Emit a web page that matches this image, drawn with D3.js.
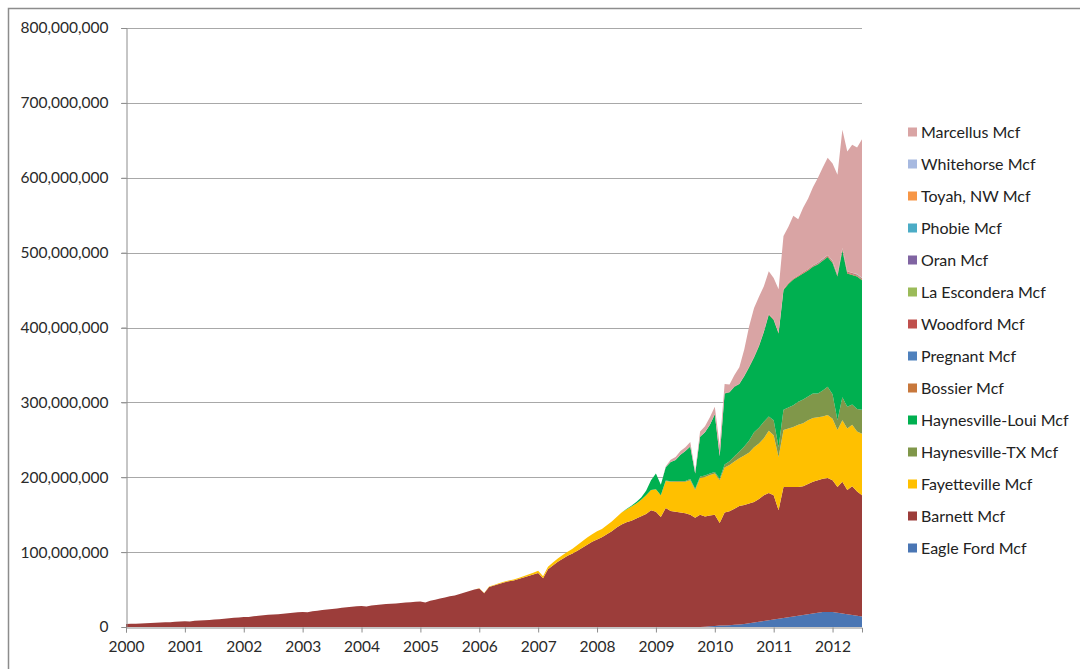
<!DOCTYPE html>
<html><head><meta charset="utf-8">
<script src="https://cdn.jsdelivr.net/npm/d3@7/dist/d3.min.js"></script>
<style>
body{margin:0;background:#fff;}
svg{display:block;font-family:Lato,"Open Sans",sans-serif;}
</style>
</head><body>
<svg id="chart" width="1080" height="669"></svg>
<script>
// Monthly gas production, millions of Mcf, Jan 2000 .. Jul 2012 (151 months)
const monthCount = 151;
const yearLabels = ["2000","2001","2002","2003","2004","2005","2006","2007","2008","2009","2010","2011","2012"];
const yTicks = [0,100,200,300,400,500,600,700,800]; // millions

// each series: first month index (0 = Jan 2000) and monthly values from there
const eagleFordStart = 118;
const eagleFord = [0.5,1,1.5,2,2,2.5,3,3.5,4,5,6,7,8,9,10,11,12,13,14,15,16,17,18,19,20,20,20,19,18,17,16,15,14];

const barnettStart = 0;
const barnett = [
 4.0,4.2,4.5,4.7,5.0,5.3,5.6,5.9,6.2,6.5,6.9,7.3,
 7.6,7.5,8.2,8.6,9.1,9.5,10.0,10.3,11.0,11.6,12.2,12.8,
 13.4,13.3,14.4,15.0,15.6,16.2,16.8,17.1,17.8,18.4,19.0,19.6,
 20.2,19.6,21.0,21.8,22.6,23.4,24.2,24.8,25.7,26.4,27.0,27.6,
 28.2,27.4,28.8,29.4,30.0,30.6,31.1,31.3,32.1,32.6,33.1,33.6,
 34.0,32.8,35.0,36.5,38.0,39.5,41.0,42.0,44.0,46.0,48.0,50.0,
 51.5,45.0,53.5,55.5,57.5,59.5,61.0,62.0,64.0,66.0,68.0,70.0,
 72,65,77,82,87,91,95,98,102,106,110,114,
 117,120,124,128,133,137,140,142,145,148,151,156,
 154,147,159,155,154,153,152,150,146,150,147,148,
 148.5,137,151,152,155,158,159,160,161,164,168,170,
 166,145,175,174,173,172,172,174,176,177,178,179,
 176,168,176,166,172,166,162];

const fayettevilleStart = 72;
const fayetteville = [
 0.3,0.3,0.5,0.6,0.8,1.0,1.2,1.4,1.6,1.9,2.2,2.5,
 3.0,2.8,3.5,4.0,4.5,5.0,5.5,6.5,7.5,8.5,9.5,10.0,
 11,11,12,13,14,16,17,19,20,22,25,27,
 30,29,36,39,40,41,42,46,37,49,53,54,
 55,57,60,62,63,64,66,68,73,74,76,83,
 80,71,76,78,80,83,84,85,85,84,83,84,
 82,76,82,82,82,80,82];

const haynesvilleTXStart = 110;
const haynesvilleTX = [0.5,0.5,1,1,1,1.5,1.5,2,2,2,2,2,4,5,7,9,12,16,20,21,22,19,20,13,27,28,29,31,32,32,33,32,35,38,33,13,31,29,27,30,32];

const haynesvilleLouiStart = 102;
const haynesvilleLoui = [0.5,1,2,3,6,13,21,14,18,26,28,35,40,43.5,20.5,53,57.5,65,77,30,95,92,93,90,94,98,100,109,120,136,134,152,160,165,168,167,168,168,169,172,173,173,175,192,196,178,173,177,173];

const bossierStart = 126;
const bossier = [0.2,0.3,0.3,0.4,0.4,0.5,0.5,0.6,0.6,0.7,0.7,0.8,0.8,0.8,0.9,0.9,0.9,1.0,1.0,1.0,1.1,1.1,1.1,1.2,1.2];
const pregnantStart = 138;
const pregnant = [0.1,0.1,0.1,0.2,0.2,0.2,0.2,0.3,0.3,0.3,0.3,0.3,0.3];
const woodfordStart = 120;
const woodford = [0.3,0.3,0.4,0.4,0.4,0.5,0.5,0.5,0.6,0.6,0.6,0.7,0.6,0.5,0.7,0.7,0.7,0.8,0.8,0.8,0.8,0.9,0.9,0.9,0.9,0.8,0.9,0.9,0.9,0.9,0.9];
const laEscondereStart = 138;
const laEscondera = [0.1,0.1,0.2,0.2,0.2,0.2,0.3,0.3,0.3,0.3,0.3,0.3,0.3];
const oranStart = 140;
const oran = [0.1,0.1,0.1,0.1,0.2,0.2,0.2,0.2,0.2,0.2,0.2];
const phobieStart = 140;
const phobie = [0.1,0.1,0.1,0.1,0.1,0.1,0.1,0.1,0.1,0.1,0.1];
const toyahStart = 138;
const toyah = [0.1,0.1,0.1,0.2,0.2,0.2,0.2,0.2,0.2,0.2,0.2,0.2,0.2];
const whitehorseStart = 142;
const whitehorse = [0.1,0.1,0.1,0.1,0.1,0.1,0.1,0.1,0.1];

const marcellusStart = 110;
const marcellus = [1,3,4,5,5,6,3,7,8,10,10,14,12,10,15,22,35,54,65,65,60,57,55,58,71,75,84,75,86,94,104,113,122,130,130,133,158,160,171,169,185];

const seriesNames = ["Eagle Ford Mcf","Barnett Mcf","Fayetteville Mcf","Haynesville-TX Mcf","Haynesville-Loui Mcf","Bossier Mcf","Pregnant Mcf","Woodford Mcf","La Escondera Mcf","Oran Mcf","Phobie Mcf","Toyah, NW Mcf","Whitehorse Mcf","Marcellus Mcf"];
const seriesColors = ["#4a76b4","#9c3d3a","#ffc000","#80974a","#00b050","#c8783c","#4f81bd","#c0504d","#9bbb59","#8064a2","#4bacc6","#f79646","#a7b9e0","#d9a4a4"];

const seriesData = [
  [eagleFordStart, eagleFord],[barnettStart, barnett],[fayettevilleStart, fayetteville],
  [haynesvilleTXStart, haynesvilleTX],[haynesvilleLouiStart, haynesvilleLoui],[bossierStart, bossier],
  [pregnantStart, pregnant],[woodfordStart, woodford],[laEscondereStart, laEscondera],
  [oranStart, oran],[phobieStart, phobie],[toyahStart, toyah],[whitehorseStart, whitehorse],
  [marcellusStart, marcellus]];

// table for d3.stack
const table = d3.range(monthCount).map(i => {
  const row = {i};
  seriesNames.forEach((n, k) => {
    const [s, arr] = seriesData[k];
    row[n] = (i >= s && arr[i - s] != null) ? arr[i - s] : 0;
  });
  return row;
});

const svg = d3.select("#chart");
const plot = {left:126, right:862, top:28, bottom:627};

const x = d3.scaleLinear().domain([0, monthCount - 1]).range([plot.left, plot.right]);
const y = d3.scaleLinear().domain([0, 800]).range([plot.bottom, plot.top]);

// outer frame
svg.append("rect").attr("x",8.5).attr("y",8.5).attr("width",1100).attr("height",700)
  .attr("fill","none").attr("stroke","#8c8c8c").attr("stroke-width",1.5);

// gridlines
svg.append("g").selectAll("line").data(yTicks.filter(d => d > 0)).join("line")
  .attr("x1", plot.left - 5).attr("x2", plot.right)
  .attr("y1", d => Math.round(y(d)) + 0.5).attr("y2", d => Math.round(y(d)) + 0.5)
  .attr("stroke","#a8a8a8").attr("stroke-width",1);

// stacked areas
const stack = d3.stack().keys(seriesNames);
const layers = stack(table);
const area = d3.area()
  .x(d => x(d.data.i))
  .y0(d => y(d[0]))
  .y1(d => y(d[1]))
  .curve(d3.curveLinear);

svg.append("g").selectAll("path").data(layers).join("path")
  .attr("d", area)
  .attr("fill", (d, k) => seriesColors[k]);

// axes
const yAxis = d3.axisLeft(y).tickValues(yTicks).tickSize(5)
  .tickFormat(d => d3.format(",")(d * 1e6));
const gy = svg.append("g").attr("transform", `translate(${plot.left + 0.5},0)`).call(yAxis);
gy.select(".domain").attr("stroke","#8c8c8c");
gy.selectAll(".tick line").attr("stroke","#8c8c8c");
gy.selectAll(".tick text").attr("x", -18).attr("font-size", 15.5).attr("fill","#2a2a2a")
  .attr("font-family","Lato, 'Open Sans', sans-serif");

const yearTicks = yearLabels.map((t, k) => k * 12);
const xAxis = d3.axisBottom(x).tickValues(yearTicks).tickSize(5)
  .tickFormat((d, k) => yearLabels[k]);
const gx = svg.append("g").attr("transform", `translate(0,${plot.bottom + 0.5})`).call(xAxis);
gx.select(".domain").attr("stroke","#8c8c8c");
gx.selectAll(".tick line").attr("stroke","#8c8c8c");
gx.selectAll(".tick text").attr("y", 13).attr("font-size", 15.5).attr("fill","#2a2a2a")
  .attr("font-family","Lato, 'Open Sans', sans-serif");

// legend (top to bottom = reverse stacking order)
const legendItems = seriesNames.map((n, k) => ({name:n, color:seriesColors[k]})).reverse();
const lg = svg.append("g").selectAll("g").data(legendItems).join("g")
  .attr("transform", (d, k) => `translate(908,${132 + k * 32})`);
lg.append("rect").attr("x",0).attr("y",-4.5).attr("width",9).attr("height",9).attr("fill", d => d.color);
lg.append("text").attr("x",13).attr("y",0).attr("dy","0.35em")
  .attr("font-size",16).attr("fill","#222").text(d => d.name);
</script>
</body></html>
